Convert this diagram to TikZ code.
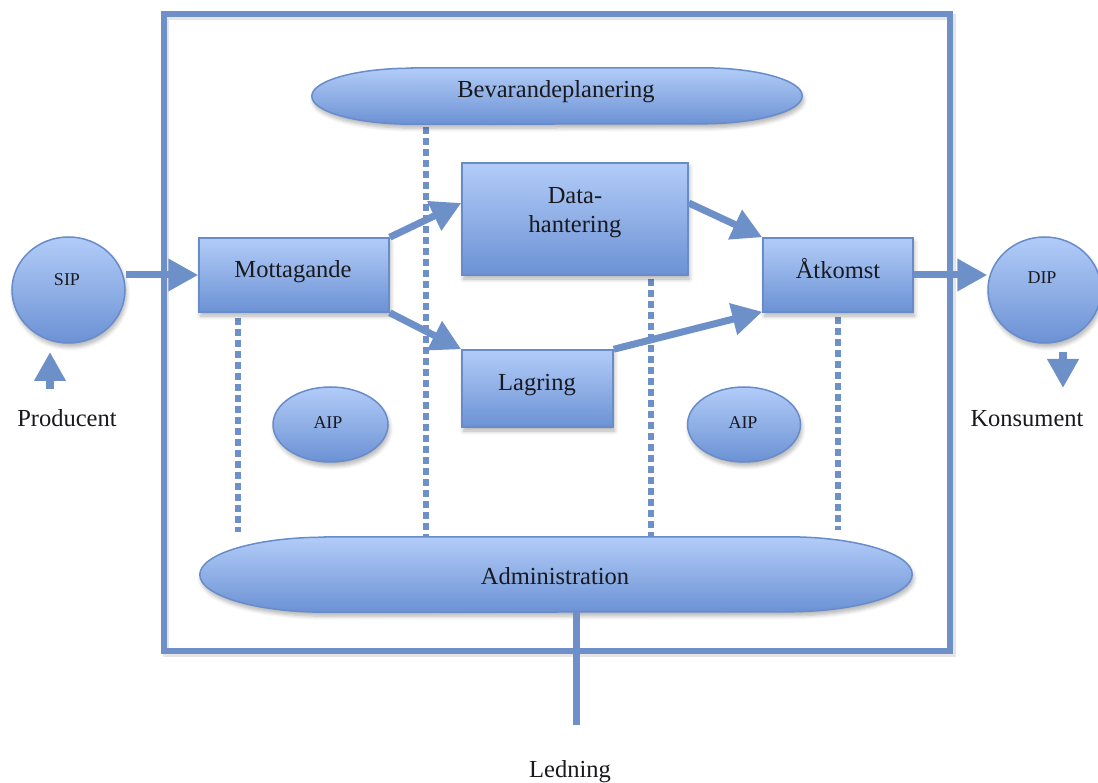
\documentclass[tikz,border=0pt]{standalone}
\usepackage{fontspec}
\setmainfont{Liberation Serif}
\usetikzlibrary{arrows.meta,shapes.geometric,shadows.blur}
\definecolor{lineblue}{RGB}{110,144,200}
\definecolor{edgeblue}{RGB}{104,140,202}
\definecolor{topblue}{RGB}{178,204,248}
\definecolor{botblue}{RGB}{108,146,212}
\definecolor{ink}{RGB}{25,25,30}
\tikzset{
  softshadow/.style={blur shadow={shadow xshift=1.5pt, shadow yshift=-4pt, shadow blur radius=4pt, shadow blur steps=6, shadow opacity=30}},
  filled/.style={draw=edgeblue, line width=1.5pt, top color=topblue, bottom color=botblue, softshadow},
  box/.style={filled, rectangle, inner sep=0pt},
  oval/.style={filled, ellipse, inner sep=0pt},
  holder/.style={rectangle, inner sep=0pt, draw=none},
  big/.style={font=\fontsize{24.5}{28}\selectfont, text=ink, inner sep=0pt, anchor=base},
  small/.style={font=\fontsize{18}{20}\selectfont, text=ink, inner sep=0pt, anchor=base},
  flow/.style={draw=lineblue, line width=7pt, -{Triangle[length=30pt,width=31pt]}},
  shortflow/.style={draw=lineblue, line width=8pt, -{Triangle[length=29pt,width=30pt]}},
  dotline/.style={draw=lineblue, line width=6.5pt, dash pattern=on 7pt off 4pt},
  wall/.style={draw=lineblue, line width=6pt},
}
\begin{document}
\begin{tikzpicture}[x=1pt,y=-1pt]
\useasboundingbox (0,0) rectangle (1098,783);

% frame
\draw[line width=6pt, black, opacity=0.10] (166,17.5) rectangle (952.5,654);
\draw[wall] (164,14) rectangle (950,650.5);

% dotted lines
\coordinate (d1a) at (238,318); \coordinate (d1b) at (238,532);
\coordinate (d2a) at (426,127); \coordinate (d2b) at (426,540);
\coordinate (d3a) at (651,279); \coordinate (d3b) at (651,540);
\coordinate (d4a) at (838,317); \coordinate (d4b) at (838,530);
\draw[dotline] (d1a) -- (d1b);
\draw[dotline] (d2a) -- (d2b);
\draw[dotline] (d3a) -- (d3b);
\draw[dotline] (d4a) -- (d4b);

% capsules
\node[holder, minimum width=490pt, minimum height=56pt] (bev) at (557,96) {};
\path[filled] ([xshift=100pt]bev.north west) -- ([xshift=-100pt]bev.north east)
  arc[start angle=90, end angle=-90, x radius=100pt, y radius=28pt]
  -- ([xshift=100pt]bev.south west)
  arc[start angle=270, end angle=90, x radius=100pt, y radius=28pt] -- cycle;
\node[holder, minimum width=712pt, minimum height=75pt] (adm) at (556,574.5) {};
\path[filled] ([xshift=125pt]adm.north west) -- ([xshift=-125pt]adm.north east)
  arc[start angle=90, end angle=-90, x radius=125pt, y radius=37.5pt]
  -- ([xshift=125pt]adm.south west)
  arc[start angle=270, end angle=90, x radius=125pt, y radius=37.5pt] -- cycle;

% boxes
\node[box, minimum width=190pt, minimum height=74pt] (mott) at (294,275) {};
\node[box, minimum width=226pt, minimum height=112pt] (data) at (575,219) {};
\node[box, minimum width=151pt, minimum height=77pt] (lag) at (537.5,388.5) {};
\node[box, minimum width=150pt, minimum height=74pt] (atk) at (838,275) {};

% ovals
\node[oval, minimum width=113pt, minimum height=106pt] (sip) at (68.5,290) {};
\node[oval, minimum width=113pt, minimum height=106pt] (dip) at (1044.5,290) {};
\node[oval, minimum width=115pt, minimum height=75pt] (aip1) at (330.5,424.5) {};
\node[oval, minimum width=113pt, minimum height=75pt] (aip2) at (744,424.5) {};

% arrows
\draw[flow] (sip.east |- mott.west) -- (mott.west);
\draw[flow] (mott.north east) -- ([yshift=16pt]data.west);
\draw[flow] (mott.south east) -- (lag.north west);
\draw[flow] ([yshift=16pt]data.east) -- (atk.north west);
\draw[flow] (lag.north east) -- ([yshift=1pt]atk.south west);
\draw[flow] (atk.east) -- (atk.east -| dip.west);

\coordinate (pa) at (50,389); \coordinate (pb) at (50,352);
\draw[shortflow] (pa) -- (pb);
\coordinate (ka) at (1063,352); \coordinate (kb) at (1063,388);
\draw[shortflow] (ka) -- (kb);

\coordinate (led) at (576,725);
\draw[wall, line width=7pt] (adm.south -| led) -- (led);

% texts
\node[big] (tbev) at (556,98) {Bevarandeplanering};
\node[big] (tadm) at (555,584) {Administration};
\node[big] (tmott) at (293,278) {Mottagande};
\node[big] (tdat1) at (575,204) {Data-};
\node[big] (tdat2) at (575,233) {hantering};
\node[big] (tlag) at (537,391) {Lagring};
\node[big] (tatk) at (838,279) {Åtkomst};
\node[big] (tprod) at (67,427) {Producent};
\node[big] (tkons) at (1027,427) {Konsument};
\node[big] (tled) at (570,777) {Ledning};
\node[small] (tsip) at (67,286) {SIP};
\node[small] (tdip) at (1042,284) {DIP};
\node[small] (taip1) at (328,429) {AIP};
\node[small] (taip2) at (743,429) {AIP};
\end{tikzpicture}
\end{document}
